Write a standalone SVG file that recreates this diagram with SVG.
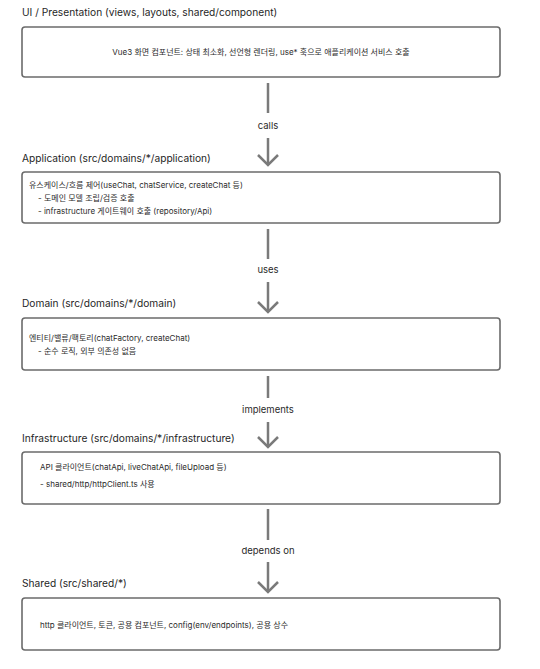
<svg xmlns="http://www.w3.org/2000/svg" width="540" height="669" viewBox="0 0 540 669">
<style>
.bg{fill:#ffffff}
.box{fill:#ffffff;stroke:#6b6b6b;stroke-width:1.6}
.title{font-family:Inter,"Noto Sans CJK KR",sans-serif;font-size:10.2px;fill:#1f1f1f}
.t{font-family:Inter,"Noto Sans CJK KR",sans-serif;font-size:8px;fill:#2a2a2a}
.lbl{font-family:Inter,"Noto Sans CJK KR",sans-serif;font-size:9.5px;fill:#2a2a2a;text-anchor:middle}
.ln{stroke:#7a7a7a;stroke-width:2.5;fill:none}
.hd{stroke:#7a7a7a;stroke-width:2.5;fill:none;stroke-linejoin:miter}
</style>
<rect class="bg" x="0" y="0" width="540" height="669"/>

<g id="ui">
<text class="title" x="22" y="16">UI / Presentation (views, layouts, shared/component)</text>
<rect class="box" x="22" y="27" width="478" height="50" rx="3"/>
<text class="t" x="261" y="55" text-anchor="middle">Vue3 화면 컴포넌트: 상태 최소화, 선언형 렌더링, use* 훅으로 애플리케이션 서비스 호출</text>
</g>

<g id="application">
<text class="title" x="22" y="162">Application (src/domains/*/application)</text>
<rect class="box" x="22" y="172" width="478" height="51" rx="3"/>
<text class="t" x="29" y="188">유스케이스/흐름 제어(useChat, chatService, createChat 등)</text>
<text class="t" x="38" y="201">- 도메인 모델 조립/검증 호출</text>
<text class="t" x="38" y="214">- infrastructure 게이트웨이 호출 (repository/Api)</text>
</g>

<g id="domain">
<text class="title" x="22" y="307">Domain (src/domains/*/domain)</text>
<rect class="box" x="22" y="318" width="478" height="52" rx="3"/>
<text class="t" x="29" y="341">엔티티/밸류/팩토리(chatFactory, createChat)</text>
<text class="t" x="38" y="354">- 순수 로직, 외부 의존성 없음</text>
</g>

<g id="infrastructure">
<text class="title" x="22" y="442">Infrastructure (src/domains/*/infrastructure)</text>
<rect class="box" x="22" y="452" width="478" height="52" rx="3"/>
<text class="t" x="40" y="470">API 클라이언트(chatApi, liveChatApi, fileUpload 등)</text>
<text class="t" x="40" y="487">- shared/http/httpClient.ts 사용</text>
</g>

<g id="shared">
<text class="title" x="22" y="587">Shared (src/shared/*)</text>
<rect class="box" x="22" y="598" width="478" height="52" rx="3"/>
<text class="t" x="40" y="628">http 클라이언트, 토큰, 공용 컴포넌트, config(env/endpoints), 공용 상수</text>
</g>

<g id="connectors">
<line class="ln" x1="268" y1="83" x2="268" y2="113"/>
<text class="lbl" x="268" y="129">calls</text>
<line class="ln" x1="268" y1="138" x2="268" y2="164"/>
<path class="hd" d="M258,155 L268,165 L278,155"/>

<line class="ln" x1="268" y1="229" x2="268" y2="259"/>
<text class="lbl" x="268" y="273">uses</text>
<line class="ln" x1="268" y1="282" x2="268" y2="311"/>
<path class="hd" d="M258,302 L268,312 L278,302"/>

<line class="ln" x1="268" y1="376" x2="268" y2="398"/>
<text class="lbl" x="268" y="413">implements</text>
<line class="ln" x1="268" y1="422" x2="268" y2="446"/>
<path class="hd" d="M258,437 L268,447 L278,437"/>

<line class="ln" x1="268" y1="509" x2="268" y2="540"/>
<text class="lbl" x="268" y="554">depends on</text>
<line class="ln" x1="268" y1="562" x2="268" y2="591"/>
<path class="hd" d="M258,582 L268,592 L278,582"/>
</g>
</svg>
